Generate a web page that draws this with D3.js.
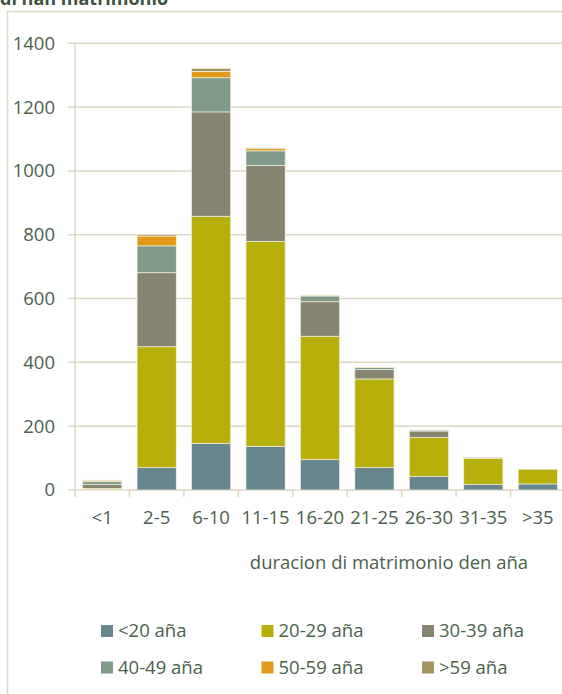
<!DOCTYPE html>
<html>
<head>
<meta charset="utf-8">
<script src="https://cdn.jsdelivr.net/npm/d3@7"></script>
<style>
  body { margin: 0; background: #fff; }
  svg { display: block; font-family: "Open Sans", sans-serif; }
</style>
</head>
<body>
<div id="chart"></div>
<script>
const width = 562;
const height = 694;

const categories = ["<1", "2-5", "6-10", "11-15", "16-20", "21-25", "26-30", "31-35", ">35"];
const seriesNames = ["<20 aña", "20-29 aña", "30-39 aña", "40-49 aña", "50-59 aña", ">59 aña"];
const under20 = [1, 70, 146, 137, 95, 70, 42, 17, 19];
const age20_29 = [4, 379, 712, 642, 387, 278, 123, 82, 46];
const age30_39 = [12, 232, 327, 238, 108, 30, 20, 3, 0];
const age40_49 = [9, 84, 107, 46, 18, 6, 3, 1, 0];
const age50_59 = [4, 31, 20, 7, 2, 1, 0, 0, 0];
const over59 = [1, 5, 9, 2, 1, 0, 0, 0, 0];
const yTicks = [0, 200, 400, 600, 800, 1000, 1200, 1400];
const colors = ["#67868f", "#b8b00a", "#878570", "#7f9a88", "#e3991a", "#a39661"];

const table = categories.map((c, i) => ({
    cat: c,
    [seriesNames[0]]: under20[i],
    [seriesNames[1]]: age20_29[i],
    [seriesNames[2]]: age30_39[i],
    [seriesNames[3]]: age40_49[i],
    [seriesNames[4]]: age50_59[i],
    [seriesNames[5]]: over59[i]
}));

const textColor = "#4a614c";
const lineColor = "#dcd9c4";
const fontSize = 18.5;

const svg = d3.select("#chart")
    .append("svg")
        .attr("width", width)
        .attr("height", height);

// frame
svg.append("path")
    .attr("d", "M7.5,694 V11.5 H562")
    .attr("fill", "none")
    .attr("stroke", lineColor)
    .attr("stroke-width", 1.5);

// title, cut off at the top like the original
svg.append("text")
    .attr("x", 0)
    .attr("y", 5)
    .attr("font-size", 18)
    .attr("font-weight", "bold")
    .attr("fill", "#3d5240")
    .text("di nan matrimonio");

const x = d3.scaleBand()
    .domain(categories)
    .range([75, 565])
    .paddingInner(0.28)
    .paddingOuter(0.14);

const y = d3.scaleLinear()
    .domain([0, 1400])
    .range([490, 43.3]);

// gridlines + y labels
svg.append("g")
    .selectAll("line")
    .data(yTicks)
    .join("line")
        .attr("x1", 68)
        .attr("x2", 562)
        .attr("y1", d => y(d))
        .attr("y2", d => y(d))
        .attr("stroke", lineColor)
        .attr("stroke-width", 1.5);

svg.append("g")
    .selectAll("text")
    .data(yTicks)
    .join("text")
        .attr("x", 55)
        .attr("y", d => y(d))
        .attr("dy", "0.35em")
        .attr("text-anchor", "end")
        .attr("font-size", fontSize)
        .attr("fill", textColor)
        .text(d => d);

// y axis line
svg.append("line")
    .attr("x1", 75).attr("x2", 75)
    .attr("y1", y(1400)).attr("y2", 490)
    .attr("stroke", lineColor)
    .attr("stroke-width", 1.5);

// x ticks at band boundaries
svg.append("g")
    .selectAll("line")
    .data(categories)
    .join("line")
        .attr("x1", d => x(d) - x.step() * 0.14)
        .attr("x2", d => x(d) - x.step() * 0.14)
        .attr("y1", 490)
        .attr("y2", 497)
        .attr("stroke", lineColor)
        .attr("stroke-width", 1.5);

// stacked bars
const stack = d3.stack().keys(seriesNames);
const series = stack(table);

svg.append("g")
    .selectAll("g")
    .data(series)
    .join("g")
        .attr("fill", (d, i) => colors[i])
    .selectAll("rect")
    .data(d => d.filter(p => p[1] > p[0]))
    .join("rect")
        .attr("x", d => x(d.data.cat))
        .attr("width", x.bandwidth())
        .attr("y", d => y(d[1]))
        .attr("height", d => y(d[0]) - y(d[1]))
        .attr("stroke", "#f2f0e2")
        .attr("stroke-width", 0.7);

// x labels
svg.append("g")
    .selectAll("text")
    .data(categories)
    .join("text")
        .attr("x", d => x(d) + x.bandwidth() / 2)
        .attr("y", 524)
        .attr("text-anchor", "middle")
        .attr("font-size", fontSize)
        .attr("fill", textColor)
        .text(d => d);

svg.append("text")
    .attr("x", 389)
    .attr("y", 569)
    .attr("text-anchor", "middle")
    .attr("font-size", fontSize)
    .attr("fill", textColor)
    .text("duracion di matrimonio den aña");

// legend
const legend = svg.append("g")
    .selectAll("g")
    .data(seriesNames)
    .join("g")
        .attr("transform", (d, i) => `translate(${101 + (i % 3) * 160.5}, ${631 + Math.floor(i / 3) * 36.5})`);

legend.append("rect")
    .attr("x", 0)
    .attr("y", -6)
    .attr("width", 12)
    .attr("height", 12)
    .attr("fill", (d, i) => colors[i]);

legend.append("text")
    .attr("x", 17)
    .attr("y", 0)
    .attr("dy", "0.35em")
    .attr("font-size", fontSize)
    .attr("fill", textColor)
    .text(d => d);
</script>
</body>
</html>
